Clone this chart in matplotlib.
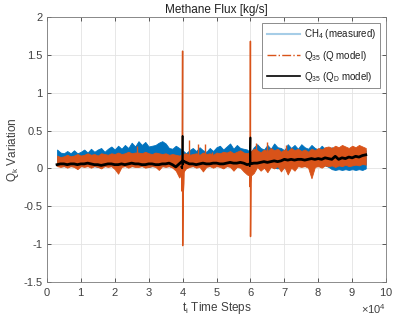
import numpy as np
import matplotlib.pyplot as plt
from matplotlib.lines import Line2D
from matplotlib.ticker import FuncFormatter

plt.rcParams['font.family'] = ['Liberation Sans', 'DejaVu Sans']
plt.rcParams['mathtext.fontset'] = 'custom'
plt.rcParams['mathtext.rm'] = 'Liberation Sans'
plt.rcParams['mathtext.it'] = 'Liberation Sans'
plt.rcParams['axes.unicode_minus'] = False

# eixo de tempo (passos), amostrado a cada 1000
t = np.arange(3000, 95000, 1000)

# CH4 medido - envelope superior / inferior da faixa
ch4_hi = [0.25, 0.21, 0.20, 0.23, 0.20, 0.24, 0.20, 0.22,
          0.25, 0.21, 0.26, 0.22, 0.25, 0.27, 0.22, 0.26,
          0.29, 0.25, 0.30, 0.26, 0.31, 0.27, 0.34, 0.29,
          0.36, 0.31, 0.35, 0.29, 0.30, 0.31, 0.34, 0.36,
          0.33, 0.27, 0.26, 0.30, 0.27, 0.24, 0.20, 0.24,
          0.27, 0.23, 0.28, 0.24, 0.22, 0.27, 0.23, 0.28,
          0.30, 0.25, 0.29, 0.33, 0.26, 0.31, 0.27, 0.26,
          0.25, 0.21, 0.28, 0.32, 0.27, 0.25, 0.31, 0.26,
          0.33, 0.28, 0.27, 0.24, 0.32, 0.27, 0.31, 0.26,
          0.32, 0.28, 0.26, 0.31, 0.27, 0.25, 0.30, 0.26,
          0.25, 0.28, 0.23, 0.27, 0.22, 0.26, 0.21, 0.25,
          0.22, 0.26, 0.25, 0.24]
ch4_lo = [0.04, 0.03, 0.03, 0.04, 0.03, 0.03, 0.04, 0.03,
          0.03, 0.04, 0.03, 0.03, 0.02, 0.03, 0.03, 0.04,
          0.03, 0.02, 0.03, 0.03, 0.04, 0.03, 0.03, 0.03,
          0.04, 0.03, 0.03, 0.02, 0.03, 0.03, 0.04, 0.03,
          0.03, 0.03, 0.02, 0.02, -0.02, -0.03, 0.01, 0.03,
          0.03, 0.04, 0.03, 0.03, 0.04, 0.03, 0.03, 0.04,
          0.03, 0.04, 0.03, 0.04, 0.03, 0.04, 0.03, 0.03,
          0.02, 0.01, 0.03, 0.04, 0.04, 0.03, 0.02, 0.03,
          0.01, 0.00, 0.02, 0.01, 0.03, 0.04, 0.03, 0.04,
          0.04, 0.03, 0.04, 0.03, 0.04, 0.04, 0.03, 0.04,
          0.02, -0.01, -0.02, -0.01, -0.02, -0.01, -0.02, -0.01,
          -0.02, -0.01, -0.02, 0.00]

# Q35 (modelo Q)
q_hi = [0.17, 0.15, 0.16, 0.18, 0.16, 0.17, 0.19, 0.17,
        0.18, 0.20, 0.18, 0.19, 0.17, 0.20, 0.19, 0.18,
        0.20, 0.19, 0.21, 0.19, 0.20, 0.22, 0.20, 0.21,
        0.21, 0.20, 0.22, 0.20, 0.19, 0.21, 0.20, 0.19,
        0.20, 0.18, 0.19, 0.18, 0.17, 0.19, 0.20, 0.18,
        0.19, 0.20, 0.18, 0.21, 0.19, 0.20, 0.18, 0.21,
        0.20, 0.22, 0.21, 0.23, 0.20, 0.22, 0.24, 0.21,
        0.20, 0.22, 0.26, 0.24, 0.21, 0.25, 0.23, 0.27,
        0.24, 0.26, 0.22, 0.25, 0.23, 0.27, 0.24, 0.26,
        0.23, 0.25, 0.22, 0.26, 0.24, 0.27, 0.25, 0.28,
        0.29, 0.27, 0.30, 0.28, 0.31, 0.29, 0.27, 0.30,
        0.28, 0.31, 0.29, 0.27]
q_lo = [0.03, 0.02, 0.03, 0.01, 0.03, 0.02, -0.01, 0.03,
        0.02, 0.03, 0.01, 0.03, 0.02, 0.00, 0.03, 0.02,
        0.03, -0.01, -0.07, 0.02, 0.03, 0.01, 0.03, 0.02,
        0.02, 0.03, 0.01, 0.02, 0.03, 0.02, -0.02, 0.03,
        0.02, 0.03, 0.01, -0.03, -0.12, -0.06, 0.00, 0.02,
        0.03, 0.01, 0.02, -0.04, 0.02, 0.03, 0.01, 0.03,
        0.02, 0.00, 0.03, 0.02, -0.03, 0.02, 0.01, -0.04,
        -0.08, -0.10, -0.06, 0.02, -0.03, 0.01, -0.05, 0.02,
        0.00, 0.03, -0.04, 0.02, -0.08, 0.01, -0.03, 0.03,
        0.02, 0.03, 0.01, -0.13, 0.02, 0.03, 0.01, 0.04,
        0.03, 0.04, 0.02, 0.04, 0.03, 0.05, 0.03, 0.04,
        0.05, 0.04, 0.06, 0.05]

# Q35 (modelo QD)
qd = [0.05, 0.06, 0.06, 0.05, 0.06, 0.06, 0.05, 0.06,
      0.06, 0.07, 0.06, 0.05, 0.05, 0.04, 0.05, 0.06,
      0.06, 0.05, 0.05, 0.06, 0.05, 0.06, 0.07, 0.06,
      0.06, 0.05, 0.05, 0.06, 0.06, 0.05, 0.05, 0.06,
      0.06, 0.07, 0.05, 0.02, 0.06, 0.10, 0.08, 0.06,
      0.06, 0.05, 0.06, 0.07, 0.06, 0.06, 0.07, 0.07,
      0.06, 0.06, 0.07, 0.08, 0.07, 0.07, 0.08, 0.07,
      0.05, 0.06, 0.07, 0.07, 0.08, 0.09, 0.08, 0.09,
      0.10, 0.09, 0.10, 0.12, 0.11, 0.12, 0.11, 0.12,
      0.12, 0.11, 0.12, 0.13, 0.12, 0.13, 0.12, 0.14,
      0.13, 0.12, 0.16, 0.12, 0.14, 0.13, 0.15, 0.14,
      0.16, 0.15, 0.17, 0.18]

# picos do modelo Q (t, valor)
spike_q_t = [39700, 39850, 39900, 40000, 40030, 40150, 40350, 40500]
spike_q_v = [0.10, -0.30, 0.10, 1.55, -1.02, -0.35, -0.20, 0.05]
spike_q2_t = [59700, 59850, 59950, 60000, 60030, 60150, 60300]
spike_q2_v = [0.10, -0.24, 0.10, 1.68, -0.90, -0.20, 0.05]
small_q_t = [26500, 41900, 44500, 46600, 48700, 61500, 64800, 70500]
small_q_v = [0.30, 0.37, 0.32, 0.32, 0.22, 0.33, 0.35, 0.31]

# picos do modelo QD
spike_qd_t = [39600, 39900, 40000, 40050, 40400, 59800, 60000, 60050, 60300]
spike_qd_v = [0.02, 0.00, 0.43, 0.05, 0.10, 0.03, 0.41, 0.06, 0.07]

blue = '#0072BD'
orange = '#D95319'

fig = plt.figure(figsize=(3.94, 3.21), dpi=100)
ax = fig.add_axes([0.119, 0.1215, 0.861, 0.8255])

ax.fill_between(t, ch4_lo, ch4_hi, color=blue, lw=0.6)
ax.fill_between(t, q_lo, q_hi, color=orange, lw=0.6)
ax.vlines(small_q_t, 0.1, small_q_v, color=orange, lw=1.0)
ax.plot(spike_q_t, spike_q_v, color=orange, lw=1.0)
ax.plot(spike_q2_t, spike_q2_v, color=orange, lw=1.0)
ax.plot(t, qd, color='black', lw=2.0)
ax.plot(spike_qd_t[:5], spike_qd_v[:5], color='black', lw=1.2)
ax.plot(spike_qd_t[5:], spike_qd_v[5:], color='black', lw=1.2)

ax.set_xlim(0, 100000)
ax.set_ylim(-1.5, 2)
ax.set_xticks(np.arange(0, 100001, 10000))
ax.set_yticks([-1.5, -1, -0.5, 0, 0.5, 1, 1.5, 2])
ax.yaxis.set_major_formatter(FuncFormatter(lambda v, p: '%g' % v))
ax.ticklabel_format(axis='x', style='sci', scilimits=(4, 4), useMathText=True)
ax.xaxis.get_offset_text().set_fontsize(8)
ax.xaxis.get_offset_text().set_color('#404040')

ax.grid(True, color='#e3e3e3', lw=0.6)
ax.set_axisbelow(True)
ax.tick_params(direction='in', top=True, right=True, length=3, width=0.6,
               labelsize=8, colors='#404040', pad=3)
for s in ax.spines.values():
    s.set_color('#7a7a7a')
    s.set_linewidth(0.6)

ax.set_title('Methane Flux [kg/s]', fontsize=8.5, color='#202020', pad=3)
ax.set_xlabel('t$_i$ Time Steps', fontsize=8.5, color='#404040', labelpad=1)
ax.set_ylabel('Q$_k$ Variation', fontsize=8.5, color='#404040', labelpad=2)

handles = [Line2D([], [], color=blue, alpha=0.35, lw=1.5),
           Line2D([], [], color=orange, ls='-.', lw=1.0),
           Line2D([], [], color='black', lw=1.2)]
labels = ['CH$_4$ (measured)', 'Q$_{35}$ (Q model)', 'Q$_{35}$ (Q$_D$ model)']
leg = ax.legend(handles, labels, loc='upper right', fontsize=7, frameon=True,
                fancybox=False, edgecolor='#7a7a7a', framealpha=1,
                borderaxespad=0.6, borderpad=0.45, handlelength=3.4,
                handletextpad=0.4, labelspacing=0.75)
leg.get_frame().set_linewidth(0.6)
for txt in leg.get_texts():
    txt.set_color('#202020')

fig.savefig('out.png', dpi=100)
